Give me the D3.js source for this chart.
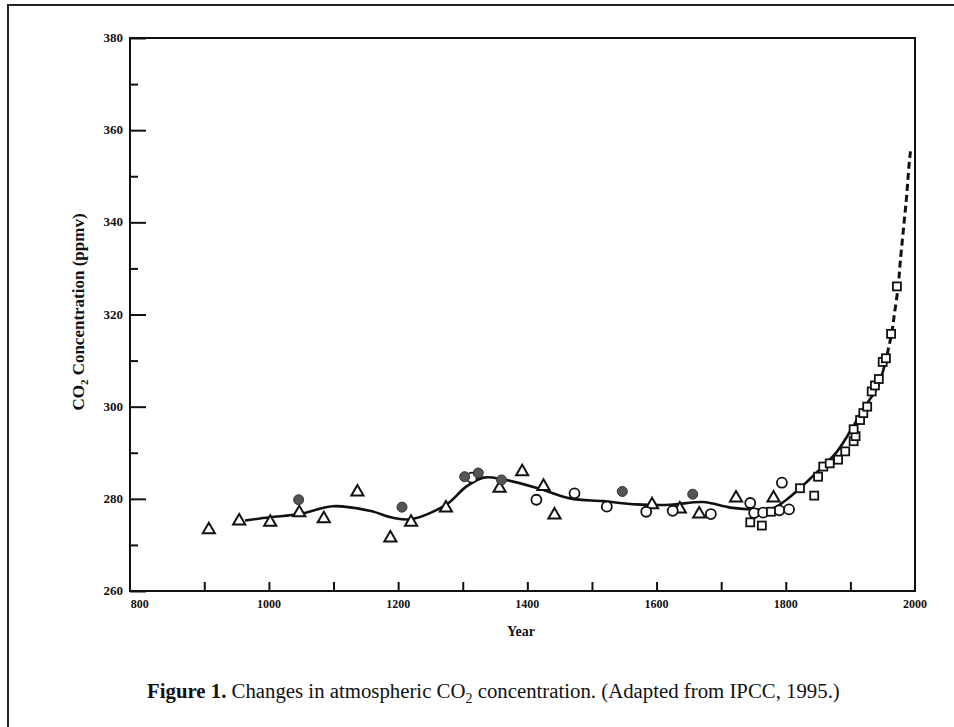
<!DOCTYPE html>
<html>
<head>
<meta charset="utf-8">
<script src="https://cdn.jsdelivr.net/npm/d3@7"></script>
<style>
  body { margin: 0; background: #fff; }
  text { font-family: "Liberation Serif", "DejaVu Serif", serif; fill: #111; }
</style>
</head>
<body>
<script>
// Data: [year, ppmv]
var triangles = [[907, 273.3], [954, 275.2], [1002, 274.9], [1047, 277.0], [1085, 275.7],
                 [1137, 281.5], [1188, 271.5], [1220, 274.9], [1274, 278.0], [1357, 282.3],
                 [1392, 285.9], [1425, 282.7], [1442, 276.5], [1593, 278.7], [1636, 277.8],
                 [1666, 276.7], [1723, 280.2], [1781, 280.2]];
var filledCircles = [[1046, 279.8], [1206, 278.2], [1303, 284.8], [1324, 285.6],
                     [1360, 284.1], [1547, 281.6], [1656, 281.0]];
var openCircles = [[1314, 284.6], [1414, 279.8], [1473, 281.2], [1523, 278.3], [1584, 277.2],
                   [1625, 277.4], [1684, 276.7], [1745, 279.1], [1751, 276.9], [1765, 277.0],
                   [1790, 277.5], [1805, 277.7], [1794, 283.5]];
var squares = [[1745, 274.9], [1763, 274.2], [1777, 277.2], [1822, 282.3], [1844, 280.7],
               [1850, 284.8], [1858, 287.0], [1868, 287.7], [1881, 288.5], [1892, 290.3],
               [1905, 292.5], [1908, 293.6], [1905, 295.1], [1915, 297.1], [1920, 298.6],
               [1926, 300.0], [1933, 303.3], [1938, 304.6], [1944, 306.0], [1950, 309.7],
               [1955, 310.5], [1963, 315.8], [1972, 326.1]];
var smoothFit = [[963, 275.3], [1001, 276.0], [1048, 276.7], [1099, 278.4], [1156, 277.4],
                 [1192, 275.9], [1221, 275.6], [1275, 278.8], [1305, 282.6], [1332, 284.6],
                 [1363, 284.2], [1414, 282.4], [1466, 280.1], [1517, 279.5], [1569, 278.8],
                 [1621, 278.7], [1672, 279.3], [1714, 278.1], [1750, 277.7], [1781, 278.0],
                 [1801, 279.8], [1822, 282.3], [1847, 285.6], [1879, 290.2], [1905, 295.9],
                 [1920, 299.5], [1942, 304.3], [1953, 309.0]];
var directRecord = [[1953, 309.0], [1964, 316.0], [1968, 320.0], [1974, 326.1], [1977, 331.1],
                    [1982, 338.4], [1987, 345.6], [1991, 352.8], [1993, 355.4]];
var yTicks = [260, 280, 300, 320, 340, 360, 380];
var xTicks = [800, 1000, 1200, 1400, 1600, 1800, 2000];

var W = 954, H = 727;

var svg = d3.select("body")
            .append("svg")
            .attr("width", W)
            .attr("height", H);

// Page frame (only top and left edges show in the scan)
svg.append("path")
   .attr("d", "M8," + H + "V5H" + W)
   .attr("fill", "none")
   .attr("stroke", "#222")
   .attr("stroke-width", 2);

// Scales
var x = d3.scaleLinear().domain([785, 2000]).range([130, 915]);
var y = d3.scaleLinear().domain([260, 380]).range([591, 38]);

// Plot box
svg.append("rect")
   .attr("x", 130).attr("y", 38)
   .attr("width", 915 - 130).attr("height", 591 - 38)
   .attr("fill", "none")
   .attr("stroke", "#111")
   .attr("stroke-width", 2);

// Y axis, ticks point inward
var yAxis = d3.axisRight(y)
              .tickValues(d3.range(260, 381, 10))
              .tickSize(0)
              .tickFormat("");
var gy = svg.append("g").attr("transform", "translate(130,0)").call(yAxis);
gy.select(".domain").remove();
gy.selectAll(".tick line")
  .attr("x2", function(d) { return d % 20 === 0 ? 16 : 8; })
  .attr("stroke", "#111")
  .attr("stroke-width", 2);
svg.selectAll(".ylab")
   .data(yTicks)
   .enter()
   .append("text")
   .attr("class", "ylab")
   .attr("x", 123)
   .attr("y", function(d) { return y(d) + 4; })
   .attr("text-anchor", "end")
   .attr("font-size", 13)
   .attr("font-weight", "bold")
   .text(function(d) { return d; });

// X axis
var xAxis = d3.axisTop(x)
              .tickValues(d3.range(900, 2000, 100))
              .tickSize(9)
              .tickFormat("");
var gx = svg.append("g").attr("transform", "translate(0,591)").call(xAxis);
gx.select(".domain").remove();
gx.selectAll(".tick line").attr("stroke", "#111").attr("stroke-width", 2);
svg.selectAll(".xlab")
   .data(xTicks)
   .enter()
   .append("text")
   .attr("class", "xlab")
   .attr("x", function(d) { return x(d); })
   .attr("y", 608)
   .attr("text-anchor", "middle")
   .attr("font-size", 12)
   .attr("font-weight", "bold")
   .text(function(d) { return d; });

// Axis titles
svg.append("text")
   .attr("x", 521).attr("y", 636)
   .attr("text-anchor", "middle")
   .attr("font-size", 14)
   .attr("font-weight", "bold")
   .text("Year");

var yt = svg.append("text")
            .attr("transform", "translate(84,312) rotate(-90)")
            .attr("text-anchor", "middle")
            .attr("font-size", 17)
            .attr("font-weight", "bold");
yt.append("tspan").text("CO");
yt.append("tspan").attr("font-size", 11).attr("dy", 4).text("2");
yt.append("tspan").attr("dy", -4).text(" Concentration (ppmv)");

// Curves
var line = d3.line()
             .x(function(d) { return x(d[0]); })
             .y(function(d) { return y(d[1]); })
             .curve(d3.curveCatmullRom);

svg.append("path")
   .datum(smoothFit)
   .attr("d", line)
   .attr("fill", "none")
   .attr("stroke", "#111")
   .attr("stroke-width", 2.6);

svg.append("path")
   .datum(directRecord)
   .attr("d", line)
   .attr("fill", "none")
   .attr("stroke", "#111")
   .attr("stroke-width", 3)
   .attr("stroke-dasharray", "7,4");

// Markers
var tri = d3.symbol().type(d3.symbolTriangle).size(64);
svg.selectAll(".tri")
   .data(triangles)
   .enter()
   .append("path")
   .attr("class", "tri")
   .attr("d", tri)
   .attr("transform", function(d) { return "translate(" + x(d[0]) + "," + y(d[1]) + ")"; })
   .attr("fill", "#fff")
   .attr("stroke", "#111")
   .attr("stroke-width", 2);

svg.selectAll(".ocirc")
   .data(openCircles)
   .enter()
   .append("circle")
   .attr("class", "ocirc")
   .attr("cx", function(d) { return x(d[0]); })
   .attr("cy", function(d) { return y(d[1]); })
   .attr("r", 5)
   .attr("fill", "#fff")
   .attr("stroke", "#111")
   .attr("stroke-width", 1.8);

svg.selectAll(".sq")
   .data(squares)
   .enter()
   .append("rect")
   .attr("class", "sq")
   .attr("x", function(d) { return x(d[0]) - 4; })
   .attr("y", function(d) { return y(d[1]) - 4; })
   .attr("width", 8)
   .attr("height", 8)
   .attr("fill", "#fff")
   .attr("stroke", "#111")
   .attr("stroke-width", 1.8);

svg.selectAll(".fcirc")
   .data(filledCircles)
   .enter()
   .append("circle")
   .attr("class", "fcirc")
   .attr("cx", function(d) { return x(d[0]); })
   .attr("cy", function(d) { return y(d[1]); })
   .attr("r", 5)
   .attr("fill", "#555")
   .attr("stroke", "#333")
   .attr("stroke-width", 1);

// Caption
var cap = svg.append("text")
             .attr("x", 147).attr("y", 698)
             .attr("font-size", 20.8);
cap.append("tspan").attr("font-weight", "bold").text("Figure 1.");
cap.append("tspan").text(" Changes in atmospheric CO");
cap.append("tspan").attr("font-size", 14).attr("dy", 5).text("2");
cap.append("tspan").attr("dy", -5).text(" concentration. (Adapted from IPCC, 1995.)");
</script>
</body>
</html>
